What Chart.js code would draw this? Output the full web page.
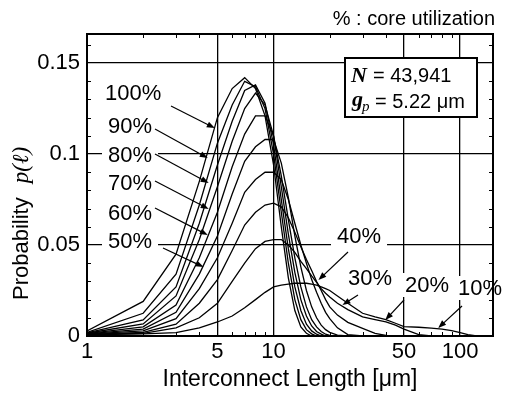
<!DOCTYPE html>
<html><head><meta charset="utf-8">
<script src="https://cdn.jsdelivr.net/npm/chart.js@4.4.1/dist/chart.umd.min.js"></script>
<style>html,body{margin:0;padding:0;background:#fff;}#wrap{width:505px;height:395px;position:relative;overflow:hidden;}</style>
</head><body><div id="wrap"><canvas id="c" width="505" height="395"></canvas></div>
<script>
// ---------- data ----------
const lengths = [1,2,3,4,5,6,7,8,9,10,11,12,13,14,15,16,17,18,19,20,22,25,30,35,40,45,50,60,70,80,90,100,110,120,130];
const util100 = [0.0028,0.019,0.045,0.085,0.120,0.136,0.142,0.136,0.121,0.094,0.060,0.032,0.014,0.005,0.0015,0,0,0,0,0,0,0,0,0,0,0,0,0,0,0,0,0,0,0,0];
const util90  = [0.002,0.0125,0.034,0.072,0.106,0.127,0.140,0.137,0.125,0.100,0.068,0.040,0.020,0.009,0.0035,0.0012,0,0,0,0,0,0,0,0,0,0,0,0,0,0,0,0,0,0,0];
const util80  = [0.0017,0.0088,0.027,0.062,0.094,0.118,0.135,0.138,0.128,0.105,0.075,0.048,0.027,0.014,0.0065,0.0028,0.001,0,0,0,0,0,0,0,0,0,0,0,0,0,0,0,0,0,0];
const util70  = [0.0015,0.0066,0.022,0.053,0.082,0.107,0.125,0.1335,0.127,0.110,0.082,0.056,0.035,0.020,0.011,0.0055,0.0025,0.001,0,0,0,0,0,0,0,0,0,0,0,0,0,0,0,0,0];
const util60  = [0.0013,0.005,0.017,0.043,0.068,0.093,0.111,0.121,0.121,0.110,0.088,0.064,0.043,0.027,0.016,0.009,0.005,0.0025,0.001,0.0003,0,0,0,0,0,0,0,0,0,0,0,0,0,0,0];
const util50  = [0.0012,0.0038,0.013,0.034,0.055,0.078,0.096,0.104,0.108,0.108,0.095,0.076,0.055,0.038,0.025,0.016,0.010,0.006,0.0035,0.002,0.0005,0,0,0,0,0,0,0,0,0,0,0,0,0,0];
const util40  = [0.001,0.0028,0.0095,0.026,0.043,0.062,0.079,0.086,0.090,0.090,0.086,0.075,0.062,0.050,0.040,0.031,0.024,0.018,0.013,0.0095,0.0045,0.0008,0,0,0,0,0,0,0,0,0,0,0,0,0];
const util30  = [0.0009,0.002,0.0065,0.018,0.031,0.047,0.061,0.068,0.072,0.073,0.071,0.065,0.057,0.049,0.042,0.036,0.030,0.025,0.020,0.016,0.0115,0.0075,0.0042,0.0015,0.0003,0,0,0,0,0,0,0,0,0,0];
const util20  = [0.0008,0.0015,0.0045,0.010,0.018,0.030,0.040,0.048,0.052,0.053,0.053,0.050,0.046,0.041,0.037,0.033,0.0295,0.026,0.0235,0.0215,0.018,0.0145,0.0105,0.009,0.0078,0.006,0.0038,0.0008,0,0,0,0,0,0,0];
const util10  = [0.0007,0.0012,0.0018,0.0045,0.0077,0.011,0.0155,0.020,0.024,0.027,0.028,0.0285,0.029,0.029,0.029,0.0285,0.028,0.027,0.026,0.025,0.022,0.018,0.0125,0.0105,0.009,0.007,0.0052,0.0048,0.0043,0.0038,0.003,0.0018,0.0007,0.0002,0];
const utilizations = ['100%','90%','80%','70%','60%','50%','40%','30%','20%','10%'];
const seriesValues = [util100,util90,util80,util70,util60,util50,util40,util30,util20,util10];
const xTickValues = [1,5,10,50,100];
const yTickValues = [0,0.05,0.1,0.15];
const xMinorTicks = [2,3,4,6,7,8,9,20,30,40,60,70,80,90];
const yMinorTicks = [0.01,0.02,0.03,0.04,0.06,0.07,0.08,0.09,0.11,0.12,0.13,0.14,0.16];
// arrow tips in data coordinates (length, probability)
const arrowTips = [[4.84,0.1143],[4.44,0.0978],[4.49,0.0841],[4.49,0.0698],[4.44,0.0555],[4.22,0.0379],[17.4,0.0308],[23.4,0.0170],[39.7,0.0088],[76.3,0.0044]];

// ---------- drawing ----------
const SANS = "'Liberation Sans', Arial, sans-serif";
const SERIF = "'Liberation Serif', 'Times New Roman', serif";
// label layout: [textLeft, baseline, arrowStartX, arrowStartY]
const labelLayout = [[105,100,171,106],[108,133,155,129],[108,162,155,154],[108,190,155,181],[108,220,155,208],[108,248,163,248],[337,243,348,252],[348,285,358,295],[405,292,404,300],[458,295,462,306]];

function arrow(ctx,x0,y0,x1,y1){
  const a=Math.atan2(y1-y0,x1-x0), L=8, W=3;
  ctx.beginPath();ctx.moveTo(x0,y0);ctx.lineTo(x1-Math.cos(a)*L*0.8,y1-Math.sin(a)*L*0.8);ctx.stroke();
  ctx.beginPath();ctx.moveTo(x1,y1);
  ctx.lineTo(x1-L*Math.cos(a)+W*Math.sin(a),y1-L*Math.sin(a)-W*Math.cos(a));
  ctx.lineTo(x1-L*Math.cos(a)-W*Math.sin(a),y1-L*Math.sin(a)+W*Math.cos(a));
  ctx.closePath();ctx.fill();
}

const decor = {
  id:'decor',
  beforeDatasetsDraw(chart){
    const ctx=chart.ctx;
    ctx.save();ctx.fillStyle='#fff';
    ctx.font='22px '+SANS;
    labelLayout.forEach((l,i)=>{
      const w=ctx.measureText(utilizations[i]).width;
      ctx.fillRect(l[0]-6,l[1]-19,w+12,24);
    });
    ctx.restore();
  },
  afterDraw(chart){
    const ctx=chart.ctx, xs=chart.scales.x, ys=chart.scales.y, a=chart.chartArea;
    ctx.save();
    ctx.strokeStyle='#000';ctx.fillStyle='#000';
    // minor ticks (inside)
    ctx.lineWidth=1;
    ctx.beginPath();
    xMinorTicks.forEach(v=>{const x=Math.round(xs.getPixelForValue(v))+0.5;ctx.moveTo(x,a.bottom);ctx.lineTo(x,a.bottom-4);ctx.moveTo(x,a.top);ctx.lineTo(x,a.top+4);});
    yMinorTicks.forEach(v=>{const y=Math.round(ys.getPixelForValue(v))+0.5;ctx.moveTo(a.left,y);ctx.lineTo(a.left+4,y);ctx.moveTo(a.right,y);ctx.lineTo(a.right-4,y);});
    ctx.stroke();
    // frame
    ctx.lineWidth=2;
    ctx.strokeRect(a.left,a.top,a.right-a.left,a.bottom-a.top);
    // labels and arrows
    ctx.font='22px '+SANS;ctx.textBaseline='alphabetic';ctx.textAlign='left';
    ctx.lineWidth=1.2;
    labelLayout.forEach((l,i)=>{
      ctx.fillText(utilizations[i],l[0],l[1]);
      const t=arrowTips[i];
      arrow(ctx,l[2],l[3],xs.getPixelForValue(t[0]),ys.getPixelForValue(t[1]));
    });
    // info box
    ctx.fillStyle='#fff';ctx.fillRect(345,58,132,59);
    ctx.lineWidth=2;ctx.strokeRect(345,58,132,59);
    ctx.fillStyle='#000';
    ctx.font='italic bold 22px '+SERIF;ctx.fillText('N',351,82);
    ctx.font='20px '+SANS;ctx.fillText('= 43,941',373,82);
    ctx.font='italic bold 22px '+SERIF;ctx.fillText('g',352,106);
    ctx.font='italic 15px '+SERIF;ctx.fillText('p',362,111);
    ctx.font='20px '+SANS;ctx.fillText('= 5.22 \u03bcm',375,108);
    // caption
    ctx.font='20px '+SANS;ctx.textAlign='right';
    ctx.fillText('% : core utilization',495,25);
    // y axis title
    ctx.textAlign='left';
    ctx.translate(28,300);ctx.rotate(-Math.PI/2);
    ctx.font='22px '+SANS;ctx.fillText('Probability',0,0);
    const w=ctx.measureText('Probability').width;
    ctx.font='italic 23px '+SERIF;ctx.fillText('p(\u2113)',w+14,0);
    ctx.restore();
  }
};

const datasets = seriesValues.map((vals,i)=>({
  label: utilizations[i],
  data: lengths.map((x,j)=>({x:x,y:vals[j]})),
  borderColor:'#000', borderWidth:1.3, pointRadius:0, tension:0, fill:false
}));

new Chart(document.getElementById('c').getContext('2d'),{
  type:'line',
  data:{datasets},
  options:{
    responsive:false, animation:false, devicePixelRatio:1,
    layout:{padding:{left:0,right:12,top:34,bottom:0}},
    plugins:{legend:{display:false},tooltip:{enabled:false}},
    scales:{
      x:{type:'logarithmic',min:1,max:150,
        afterBuildTicks:s=>{s.ticks=xTickValues.map(v=>({value:v}));},
        ticks:{callback:v=>String(v),font:{family:SANS,size:22},color:'#000',padding:3,maxRotation:0,autoSkip:false},
        grid:{color:'#000',lineWidth:1.3,drawTicks:false},
        border:{display:false},
        title:{display:true,text:'Interconnect Length [\u03bcm]',font:{family:SANS,size:23},color:'#000',padding:{top:0,bottom:2}},
        afterFit:s=>{s.height=59;}
      },
      y:{type:'linear',min:0,max:0.166,
        afterBuildTicks:s=>{s.ticks=yTickValues.map(v=>({value:v}));},
        ticks:{callback:v=>String(v),font:{family:SANS,size:22},color:'#000',padding:7},
        grid:{color:'#000',lineWidth:1.3,drawTicks:false},
        border:{display:false},
        afterFit:s=>{s.width=87;}
      }
    }
  },
  plugins:[decor]
});
</script></body></html>
